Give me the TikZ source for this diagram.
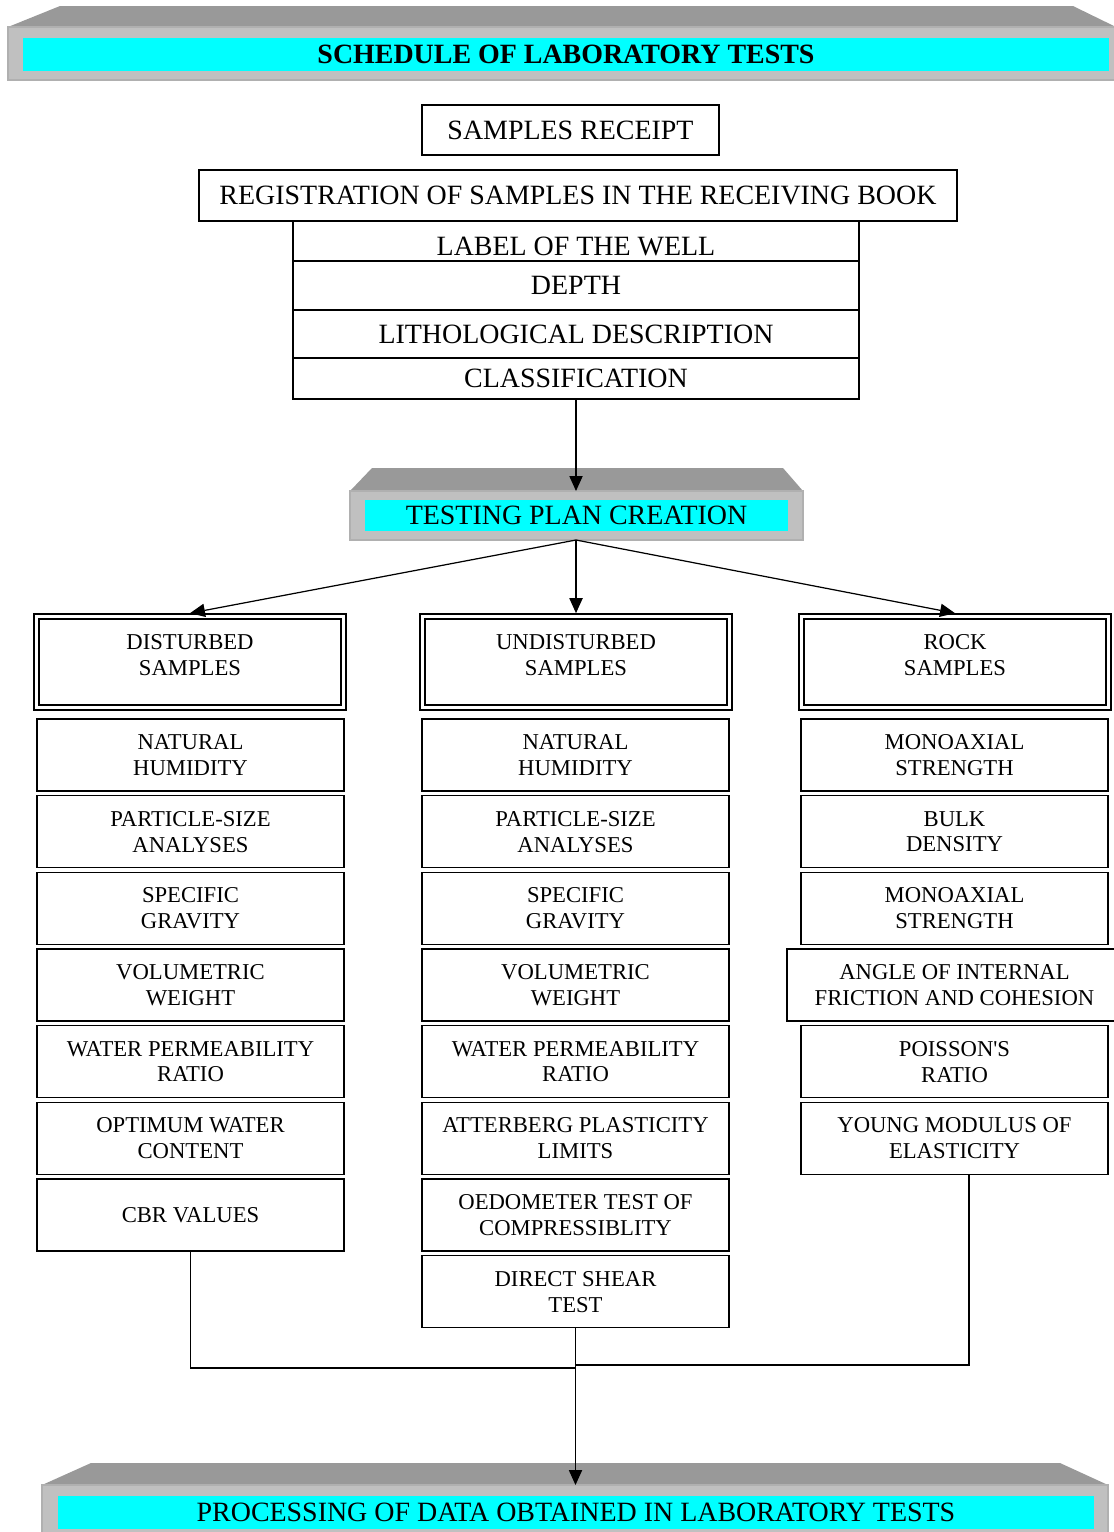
\documentclass[tikz,border=0pt]{standalone}
\usepackage{fontspec}
\setmainfont{Liberation Serif}
\usetikzlibrary{arrows.meta}
\usetikzlibrary{positioning}
\definecolor{topgray}{RGB}{153,153,153}
\definecolor{frontgray}{RGB}{192,192,192}
\definecolor{edgegray}{RGB}{176,176,176}
\definecolor{bandcyan}{RGB}{0,255,255}
\newcommand{\bigsize}{\fontsize{15.9}{18}\selectfont}
\newcommand{\smallsize}{\fontsize{12.9}{14.7}\selectfont}
\tikzset{
	stepbox/.style={rectangle,draw,line width=0.8pt,inner sep=0pt,minimum width=6.14cm,minimum height=1.44cm,align=center,font=\smallsize},
	headbox/.style={rectangle,draw,double,line width=0.8pt,double distance=2.2pt,outer sep=1.9pt,inner sep=0pt,minimum width=6.14cm,minimum height=1.82cm},
	headtext/.style={align=center,font=\smallsize},
	rowbox/.style={rectangle,draw,line width=0.8pt,inner sep=0pt,minimum width=11.32cm,font=\bigsize},
	band/.style={rectangle,fill=bandcyan,inner sep=0pt,font=\bigsize},
	arr/.style={-{Triangle[length=8.5pt,width=7.5pt]},line width=0.7pt},
	link/.style={line width=0.7pt}
}

\begin{document}
\begin{tikzpicture}[x=0.02cm,y=-0.02cm]
	\useasboundingbox (0,0) rectangle (1113,1532);
	\fill[topgray] (60,6) -- (1073,6) -- (1116,27) -- (8,27) -- cycle;
	\filldraw[fill=frontgray,draw=edgegray,line width=0.6pt] (8,27) rectangle (1120,80);
	\node[band,minimum width=21.72cm,minimum height=0.66cm] (Schedule) at (566,54.5) {\bfseries SCHEDULE OF LABORATORY TESTS};

	\node[rectangle,draw,line width=0.8pt,minimum width=5.94cm,minimum height=1cm,font=\bigsize] (Receipt) at (570.5,130) {SAMPLES RECEIPT};
	\node[rectangle,draw,line width=0.8pt,minimum width=15.16cm,minimum height=1.02cm,font=\bigsize] (Registration) at (578,195.5) {REGISTRATION OF SAMPLES IN THE RECEIVING BOOK};
	\node[rowbox,minimum height=0.8cm,text height=17pt,text depth=0pt] (Well) at (576,241) {LABEL OF THE WELL};
	\node[rowbox,minimum height=0.98cm] (Depth) at (576,285.5) {DEPTH};
	\node[rowbox,minimum height=0.96cm] (Lithology) at (576,334) {LITHOLOGICAL DESCRIPTION};
	\node[rowbox,minimum height=0.82cm] (Classification) at (576,378.5) {CLASSIFICATION};

	\fill[topgray] (372,468) -- (783,468) -- (803,491) -- (350,491) -- cycle;
	\filldraw[fill=frontgray,draw=edgegray,line width=0.6pt] (350,491) rectangle (803,540);
	\node[band,minimum width=8.46cm,minimum height=0.62cm] (Plan) at (576.5,515.5) {TESTING PLAN CREATION};
	\coordinate (PlanTop) at (576,491);
	\coordinate (PlanBottom) at (576,540);

	\node[headbox] (Disturbed) at (190,662) {};
	\node[headtext] (DisturbedText) at (190,655) {DISTURBED\\SAMPLES};
	\node[headbox] (Undisturbed) at (576,662) {};
	\node[headtext] (UndisturbedText) at (576,655) {UNDISTURBED\\SAMPLES};
	\node[headbox] (Rock) at (955,662) {};
	\node[headtext] (RockText) at (955,655) {ROCK\\SAMPLES};

	\node[stepbox] (DNatural) at (190.5,755) {NATURAL\\HUMIDITY};
	\node[stepbox] (DParticle) at (190.5,831.7) {PARTICLE-SIZE\\ANALYSES};
	\node[stepbox] (DGravity) at (190.5,908.3) {SPECIFIC\\GRAVITY};
	\node[stepbox] (DVolume) at (190.5,985) {VOLUMETRIC\\WEIGHT};
	\node[stepbox] (DPermeability) at (190.5,1061.7) {WATER PERMEABILITY\\RATIO};
	\node[stepbox] (DOptimum) at (190.5,1138.3) {OPTIMUM WATER\\CONTENT};
	\node[stepbox] (DCbr) at (190.5,1215) {CBR VALUES};

	\node[stepbox] (UNatural) at (575.5,755) {NATURAL\\HUMIDITY};
	\node[stepbox] (UParticle) at (575.5,831.7) {PARTICLE-SIZE\\ANALYSES};
	\node[stepbox] (UGravity) at (575.5,908.3) {SPECIFIC\\GRAVITY};
	\node[stepbox] (UVolume) at (575.5,985) {VOLUMETRIC\\WEIGHT};
	\node[stepbox] (UPermeability) at (575.5,1061.7) {WATER PERMEABILITY\\RATIO};
	\node[stepbox] (UAtterberg) at (575.5,1138.3) {ATTERBERG PLASTICITY\\LIMITS};
	\node[stepbox] (UOedometer) at (575.5,1215) {OEDOMETER TEST OF\\COMPRESSIBLITY};
	\node[stepbox] (UShear) at (575.5,1291.7) {DIRECT SHEAR\\TEST};

	\node[stepbox] (RMonoaxial) at (954.5,755) {MONOAXIAL\\STRENGTH};
	\node[stepbox] (RBulk) at (954.5,831.7) {BULK\\DENSITY};
	\node[stepbox] (RMonoaxialTwo) at (954.5,908.3) {MONOAXIAL\\STRENGTH};
	\node[stepbox,minimum width=6.7cm] (RAngle) at (954.5,985) {ANGLE OF INTERNAL\\FRICTION AND COHESION};
	\node[stepbox] (RPoisson) at (954.5,1061.7) {POISSON\textquotesingle S\\RATIO};
	\node[stepbox] (RYoung) at (954.5,1138.3) {YOUNG MODULUS OF\\ELASTICITY};

	\fill[topgray] (91,1463) -- (1060,1463) -- (1108,1485) -- (42,1485) -- cycle;
	\filldraw[fill=frontgray,draw=edgegray,line width=0.6pt] (42,1485) rectangle (1108,1545);
	\node[band,minimum width=20.72cm,minimum height=0.66cm] (Processing) at (576,1512.5) {PROCESSING OF DATA OBTAINED IN LABORATORY TESTS};
	\coordinate (ProcessTop) at (575.5,1485);
	\coordinate (JoinLeft) at (575.5,1368);
	\coordinate (JoinRight) at (575.5,1365);

	\draw[arr] (Classification.south) -- (PlanTop);
	\draw[arr] (PlanBottom) -- (Disturbed.north);
	\draw[arr] (PlanBottom) -- (Undisturbed.north);
	\draw[arr] (PlanBottom) -- (Rock.north);
	\draw[link] (DCbr.south) |- (JoinLeft);
	\draw[link] ([xshift=0.29cm]RYoung.south) |- (JoinRight);
	\draw[arr] (UShear.south) -- (ProcessTop);
\end{tikzpicture}
\end{document}
